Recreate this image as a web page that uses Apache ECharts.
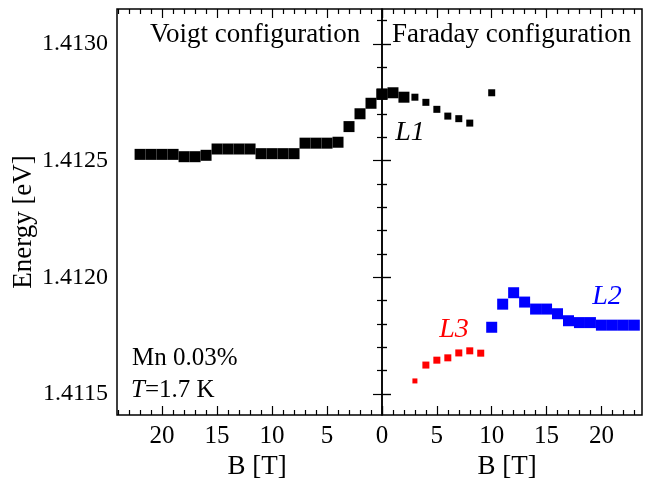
<!DOCTYPE html>
<html><head><meta charset="utf-8">
<script src="https://cdn.jsdelivr.net/npm/echarts@6/dist/echarts.min.js"></script>
<style>html,body{margin:0;padding:0;background:#fff}#c{width:645px;height:483px}</style>
</head><body><div id="c"></div>
<script>
// Voigt configuration (left panel), B in tesla
const voigtB = [22,21,20,19,18,17,16,15,14,13,12,11,10,9,8,7,6,5,4,3,2,1,0];
const voigtE = [1.412527,1.412527,1.412527,1.412527,1.412517,1.412517,1.412523,1.41255,1.41255,1.41255,1.41255,1.41253,1.41253,1.41253,1.41253,1.412575,1.412575,1.412575,1.412579,1.412646,1.412701,1.412746,1.412784];
// Faraday configuration (right panel)
const l1B = [0,1,2,3,4,5,6,7,8,10];
const l1E = [1.412786,1.412791,1.412772,1.412772,1.41275,1.41272,1.412691,1.41268,1.412661,1.412791];
const l3B = [3,4,5,6,7,8,9];
const l3E = [1.411556,1.411624,1.411645,1.411655,1.411676,1.411685,1.411675];
const l2B = [10,11,12,13,14,15,16,17,18,19,20,21,22,23];
const l2E = [1.411786,1.411885,1.411934,1.411894,1.411864,1.411864,1.411844,1.411814,1.411806,1.411806,1.411795,1.411795,1.411795,1.411795];
// tick values
const xMajor = [0,5,10,15,20];
const xMinorLeft = [1,2,3,4,6,7,8,9,11,12,13,14,16,17,18,19,21,22,23,24];
const xMinorRight = [1,2,3,4,6,7,8,9,11,12,13,14,16,17,18,19,21,22,23];
const yMajor = [1.4115,1.4120,1.4125,1.4130];
const yMinor = [1.4116,1.4117,1.4118,1.4119,1.4121,1.4122,1.4123,1.4124,1.4126,1.4127,1.4128,1.4129,1.4131];

const X_LEFT_MAX = 24.1, X_RIGHT_MAX = 23.7, Y_MIN = 1.41141, Y_MAX = 1.41315;
const FONT = 'Liberation Serif';
const pair = (xs, ys) => xs.map((x, i) => [x, ys[i]]);

function xAx(grid, pos, inverse, max, values, len, labels) {
  return {
    type: 'value', gridIndex: grid, position: pos, inverse: inverse, min: 0, max: max,
    axisLine: {show: false}, splitLine: {show: false},
    axisTick: {show: true, inside: true, length: len, customValues: values, lineStyle: {color: '#000', width: 1.2}},
    axisLabel: labels ? {show: true, customValues: labels, margin: 9, color: '#000', fontFamily: FONT, fontSize: 25} : {show: false}
  };
}
function yAx(grid, pos, values, len, labels) {
  return {
    type: 'value', gridIndex: grid, position: pos, min: Y_MIN, max: Y_MAX,
    axisLine: {show: false}, splitLine: {show: false},
    axisTick: {show: true, inside: true, length: len, customValues: values, lineStyle: {color: '#000', width: 1.2}},
    axisLabel: labels ? {show: true, customValues: labels, margin: 9, color: '#000', fontFamily: FONT, fontSize: 24,
      formatter: v => v.toFixed(4)} : {show: false}
  };
}

const chart = echarts.init(document.getElementById('c'), null, {renderer: 'canvas'});
chart.setOption({
  animation: false,
  backgroundColor: '#fff',
  grid: [
    {left: 117, right: 263, top: 9, bottom: 68, show: true, borderColor: '#000', borderWidth: 1.5, backgroundColor: 'transparent'},
    {left: 382, right: 3, top: 9, bottom: 68, show: true, borderColor: '#000', borderWidth: 1.5, backgroundColor: 'transparent'}
  ],
  xAxis: [
    xAx(0, 'bottom', true, X_LEFT_MAX, xMajor, 9, [5,10,15,20]),
    xAx(0, 'bottom', true, X_LEFT_MAX, xMinorLeft, 5, null),
    xAx(0, 'top', true, X_LEFT_MAX, xMajor, 9, null),
    xAx(0, 'top', true, X_LEFT_MAX, xMinorLeft, 5, null),
    xAx(1, 'bottom', false, X_RIGHT_MAX, xMajor, 9, xMajor),
    xAx(1, 'bottom', false, X_RIGHT_MAX, xMinorRight, 5, null),
    xAx(1, 'top', false, X_RIGHT_MAX, xMajor, 9, null),
    xAx(1, 'top', false, X_RIGHT_MAX, xMinorRight, 5, null)
  ],
  yAxis: [
    yAx(0, 'left', yMajor, 9, yMajor),
    yAx(0, 'left', yMinor, 5, null),
    yAx(1, 'left', yMajor, 9, null),
    yAx(1, 'left', yMinor, 5, null),
    yAx(1, 'right', yMajor, 9, null),
    yAx(1, 'right', yMinor, 5, null)
  ],
  series: [
    {type: 'scatter', xAxisIndex: 0, yAxisIndex: 0, data: pair(voigtB, voigtE), symbol: 'rect', symbolSize: 11,
      itemStyle: {color: '#000', opacity: 1}, clip: false, z: 5},
    {type: 'scatter', xAxisIndex: 4, yAxisIndex: 2, data: pair(l1B, l1E), symbol: 'rect',
      symbolSize: v => (v[0] <= 2 ? 11 : 7), itemStyle: {color: '#000', opacity: 1}, clip: false, z: 5},
    {type: 'scatter', xAxisIndex: 4, yAxisIndex: 2, data: pair(l3B, l3E), symbol: 'rect',
      symbolSize: v => (v[0] <= 3 ? 5 : 7), itemStyle: {color: '#ff0000', opacity: 1}, clip: false, z: 5},
    {type: 'scatter', xAxisIndex: 4, yAxisIndex: 2, data: pair(l2B, l2E), symbol: 'rect', symbolSize: 11,
      itemStyle: {color: '#0000ff', opacity: 1}, clip: false, z: 5}
  ],
  graphic: [
    {type: 'text', left: 150, top: 21, style: {text: 'Voigt configuration', font: '27px "Liberation Serif"', fill: '#000'}},
    {type: 'text', left: 392, top: 21, style: {text: 'Faraday configuration', font: '27px "Liberation Serif"', fill: '#000'}},
    {type: 'text', x: 410, y: 133, style: {text: 'L1', font: 'italic 28px "Liberation Serif"', fill: '#000', align: 'center', verticalAlign: 'middle'}},
    {type: 'text', x: 607, y: 297, style: {text: 'L2', font: 'italic 28px "Liberation Serif"', fill: '#0000ff', align: 'center', verticalAlign: 'middle'}},
    {type: 'text', x: 454, y: 330, style: {text: 'L3', font: 'italic 28px "Liberation Serif"', fill: '#ff0000', align: 'center', verticalAlign: 'middle'}},
    {type: 'text', x: 132, y: 358, style: {text: 'Mn 0.03%', font: '25px "Liberation Serif"', fill: '#000', align: 'left', verticalAlign: 'middle'}},
    {type: 'text', x: 131, y: 390, style: {text: '{i|T}=1.7 K', font: '25px "Liberation Serif"', fill: '#000', align: 'left', verticalAlign: 'middle',
      rich: {i: {fontStyle: 'italic', fontFamily: FONT, fontSize: 25, fill: '#000'}}}},
    {type: 'text', x: 24, y: 222, rotation: Math.PI / 2, style: {text: 'Energy [eV]', font: '27px "Liberation Serif"', fill: '#000', align: 'center', verticalAlign: 'middle'}},
    {type: 'text', x: 257, y: 467, style: {text: 'B [T]', font: '27px "Liberation Serif"', fill: '#000', align: 'center', verticalAlign: 'middle'}},
    {type: 'text', x: 507, y: 467, style: {text: 'B [T]', font: '27px "Liberation Serif"', fill: '#000', align: 'center', verticalAlign: 'middle'}}
  ]
});
</script></body></html>
